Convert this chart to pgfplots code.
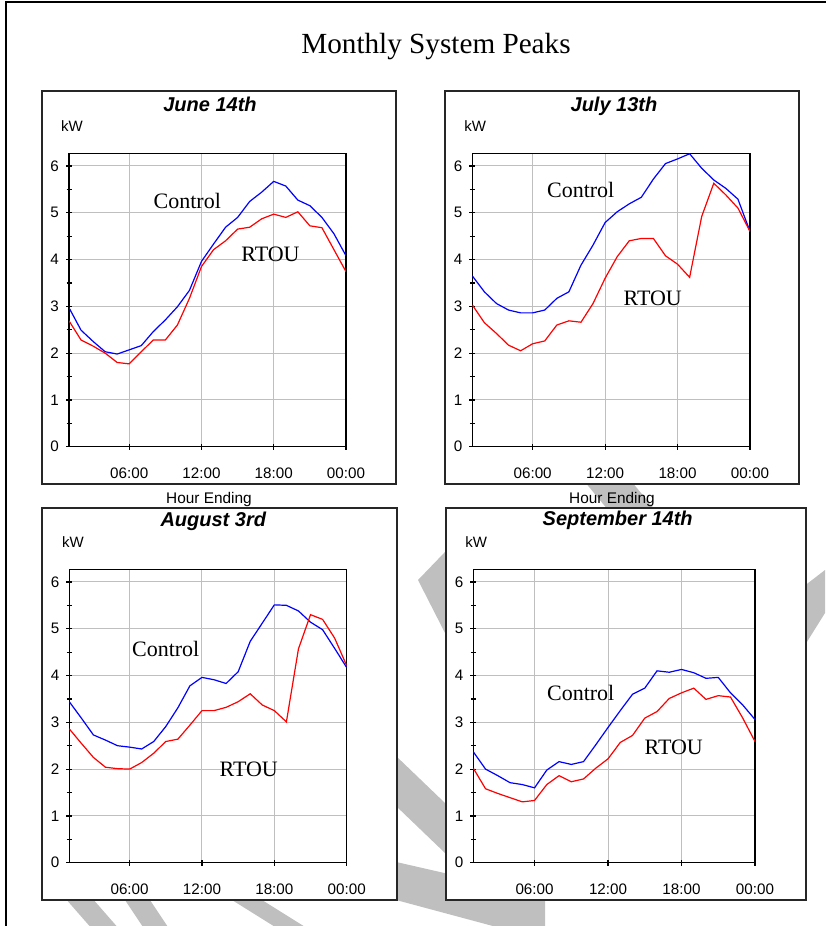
\documentclass[border=0pt]{standalone}
\usepackage{pgfplots}
\pgfplotsset{compat=1.18}
\usepackage{pgfplotstable}
\usepackage{fontspec}
\setmainfont{Liberation Serif}
\setsansfont{Liberation Sans}

\pgfplotstableread{
h C R
1 2.97 2.69
2 2.49 2.28
3 2.25 2.15
4 2.03 2.00
5 1.98 1.80
6 2.07 1.77
7 2.16 2.03
8 2.46 2.28
9 2.71 2.28
10 2.99 2.60
11 3.34 3.17
12 3.96 3.85
13 4.33 4.21
14 4.69 4.40
15 4.90 4.65
16 5.24 4.69
17 5.44 4.87
18 5.67 4.97
19 5.57 4.90
20 5.27 5.02
21 5.15 4.72
22 4.90 4.68
23 4.55 4.21
24 4.08 3.74
}\june

\pgfplotstableread{
h C R
1 3.65 3.03
2 3.31 2.65
3 3.06 2.42
4 2.92 2.17
5 2.86 2.05
6 2.86 2.20
7 2.92 2.26
8 3.17 2.60
9 3.31 2.69
10 3.88 2.66
11 4.31 3.06
12 4.79 3.60
13 5.02 4.06
14 5.19 4.40
15 5.33 4.45
16 5.72 4.45
17 6.05 4.08
18 6.15 3.90
19 6.26 3.62
20 5.95 4.92
21 5.70 5.63
22 5.52 5.38
23 5.29 5.10
24 4.60 4.60
}\july

\pgfplotstableread{
h C R
1 3.44 2.86
2 3.09 2.55
3 2.73 2.25
4 2.62 2.04
5 2.50 2.01
6 2.47 2.00
7 2.43 2.14
8 2.59 2.34
9 2.91 2.59
10 3.31 2.64
11 3.78 2.94
12 3.96 3.25
13 3.91 3.25
14 3.83 3.32
15 4.08 3.44
16 4.73 3.61
17 5.12 3.37
18 5.51 3.25
19 5.50 3.01
20 5.38 4.57
21 5.14 5.30
22 4.98 5.20
23 4.58 4.80
24 4.17 4.21
}\august

\pgfplotstableread{
h C R
1 2.37 2.02
2 2.00 1.58
3 1.86 1.48
4 1.71 1.39
5 1.67 1.30
6 1.60 1.33
7 1.98 1.67
8 2.16 1.86
9 2.10 1.73
10 2.16 1.79
11 2.52 2.02
12 2.89 2.22
13 3.25 2.57
14 3.60 2.72
15 3.73 3.09
16 4.10 3.23
17 4.07 3.51
18 4.13 3.63
19 4.06 3.73
20 3.94 3.49
21 3.96 3.57
22 3.63 3.54
23 3.37 3.09
24 3.06 2.59
}\september

\pgfplotsset{panel/.style={
  scale only axis, height=146.7pt,
  anchor=south west,
  xmin=1, xmax=24, ymin=0, ymax=6.27,
  xtick={6,12,18,24}, xticklabels={06:00,12:00,18:00,00:00},
  ytick={0,1,2,3,4,5,6}, minor y tick num=1,
  tick pos=left, tick align=center,
  major tick length=3pt, minor tick length=2.5pt,
  tick style={black, line width=0.6pt},
  grid=major, major grid style={color=black!25, line width=0.5pt},
  axis line style={line width=0.75pt},
  /pgf/number format/assume math mode=true,
  ticklabel style={font=\fontsize{7.6}{9}\selectfont\sffamily},
  xticklabel style={yshift=-5.5pt},
  every axis plot/.append style={line width=0.6pt},
}}

\begin{document}
\begin{tikzpicture}
\useasboundingbox (0,0) rectangle (412.5pt,-463pt);
\begin{scope}[x=0.5pt,y=-0.5pt]
  % watermark stripes
  \fill[black!25] (470,526) -- (418,580) -- (470,682) -- cycle;
  \fill[black!25] (370,731) -- (470,827) -- (470,877) -- (370,781) -- cycle;
  \fill[black!25] (370,856) -- (545,896) -- (545,940) -- (370,893) -- cycle;
  \fill[black!25] (200,880) -- (230,880) -- (310,930) -- (280,930) -- cycle;
  \fill[black!25] (125,900) -- (150,900) -- (170,930) -- (145,930) -- cycle;
  \fill[black!25] (65,898) -- (92,898) -- (120,930) -- (93,930) -- cycle;
  \fill[black!25] (790,597) -- (825,570) -- (825,613) -- (790,669) -- cycle;
  \fill[black!25] (575,470) -- (622,470) -- (665,522) -- (618,522) -- cycle;
  % outer border
  \draw[line width=1.2pt] (6,930) -- (6,2) -- (830,2);
  % panel frames
  \draw[draw=black!85, fill=white, line width=0.7pt] (42,91) rectangle (396,484);
  \draw[draw=black!85, fill=white, line width=0.7pt] (445,91) rectangle (799,484);
  \draw[draw=black!85, fill=white, line width=0.7pt] (42,508) rectangle (397,900);
  \draw[draw=black!85, fill=white, line width=0.7pt] (446,508) rectangle (806,900);
  % main title
  \node[anchor=base, inner sep=0, font=\fontsize{14.6}{17}\selectfont] at (436,54) {Monthly System Peaks};
\end{scope}

\begin{axis}[panel, at={(34.5pt,-223.35pt)}, width=138.5pt]
  \addplot[blue] table[x=h,y=C]{\june};
  \addplot[red] table[x=h,y=R]{\june};
\end{axis}
\begin{axis}[panel, at={(236.15pt,-223.35pt)}, width=138.85pt]
  \addplot[blue] table[x=h,y=C]{\july};
  \addplot[red] table[x=h,y=R]{\july};
\end{axis}
\begin{axis}[panel, at={(34.65pt,-431.35pt)}, width=138.7pt]
  \addplot[blue] table[x=h,y=C]{\august};
  \addplot[red] table[x=h,y=R]{\august};
\end{axis}
\begin{axis}[panel, at={(236.65pt,-431.35pt)}, width=140.85pt]
  \addplot[blue] table[x=h,y=C]{\september};
  \addplot[red] table[x=h,y=R]{\september};
\end{axis}

\begin{scope}[x=0.5pt,y=-0.5pt]
  \tikzset{ptitle/.style={anchor=base, inner sep=0, font=\fontsize{10}{12}\selectfont\sffamily\bfseries\itshape},
           kw/.style={anchor=base west, inner sep=0, font=\fontsize{7.5}{9}\selectfont\sffamily},
           he/.style={anchor=base, inner sep=0, font=\fontsize{7.7}{9}\selectfont\sffamily},
           lab/.style={anchor=base west, inner sep=0, font=\fontsize{11}{13}\selectfont}}
  \node[ptitle] at (210,111) {June 14th};
  \node[ptitle] at (614,111) {July 13th};
  \node[ptitle] at (213.3,526.7) {August 3rd};
  \node[ptitle] at (617.7,525.7) {September 14th};
  \node[kw] at (60.7,131.7) {kW};
  \node[kw] at (464,131.7) {kW};
  \node[kw] at (61.7,547.7) {kW};
  \node[kw] at (465,547.7) {kW};
  \node[he] at (209,503.3) {Hour Ending};
  \node[he] at (612,503.3) {Hour Ending};
  \node[lab] at (153.3,208.3) {Control};
  \node[lab] at (241,261.7) {RTOU};
  \node[lab] at (546.7,197.3) {Control};
  \node[lab] at (623.3,305.7) {RTOU};
  \node[lab] at (131.7,656.7) {Control};
  \node[lab] at (219.3,776) {RTOU};
  \node[lab] at (546.7,700) {Control};
  \node[lab] at (644.3,754.3) {RTOU};
\end{scope}
\end{tikzpicture}
\end{document}
